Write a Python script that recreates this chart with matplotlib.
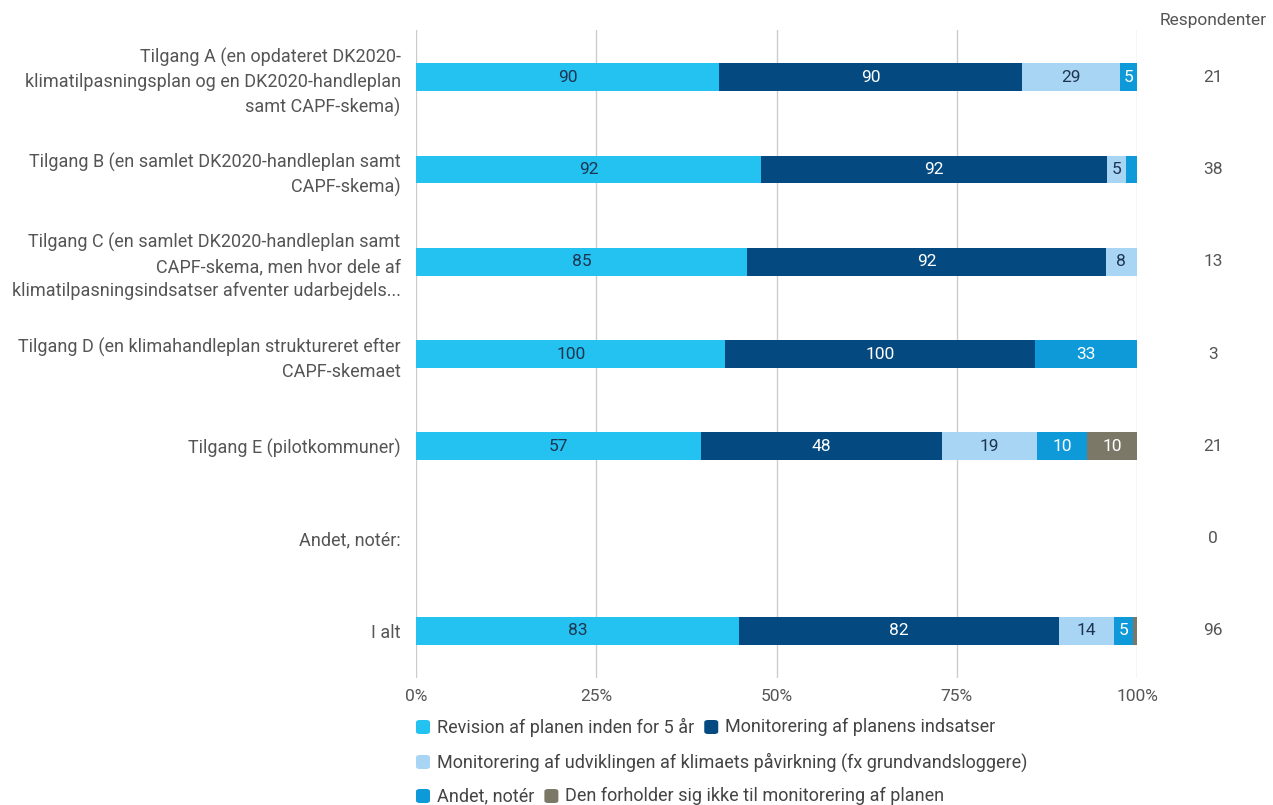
import matplotlib
matplotlib.use("Agg")
import matplotlib.pyplot as plt
from matplotlib.patches import FancyBboxPatch
import numpy as np

plt.rcParams['font.family'] = ['Roboto', 'DejaVu Sans']

categories = [
    "Tilgang A (en opdateret DK2020-\nklimatilpasningsplan og en DK2020-handleplan\nsamt CAPF-skema)",
    "Tilgang B (en samlet DK2020-handleplan samt\nCAPF-skema)",
    "Tilgang C (en samlet DK2020-handleplan samt\nCAPF-skema, men hvor dele af\nklimatilpasningsindsatser afventer udarbejdels...",
    "Tilgang D (en klimahandleplan struktureret efter\nCAPF-skemaet",
    "Tilgang E (pilotkommuner)",
    "Andet, notér:",
    "I alt",
]
respondenter = [21, 38, 13, 3, 21, 0, 96]

series_names = [
    "Revision af planen inden for 5 år",
    "Monitorering af planens indsatser",
    "Monitorering af udviklingen af klimaets påvirkning (fx grundvandsloggere)",
    "Andet, notér",
    "Den forholder sig ikke til monitorering af planen",
]
revision = [90, 92, 85, 100, 57, 0, 83]
monitor_indsatser = [90, 92, 92, 100, 48, 0, 82]
monitor_udvikling = [29, 5, 8, 0, 19, 0, 14]
andet = [5, 3, 0, 33, 10, 0, 5]
forholder_ikke = [0, 0, 0, 0, 10, 0, 1]

colors = ["#23C2F1", "#044A80", "#A9D5F5", "#0E9AD9", "#7C7868"]
text_colors = ["#1d3550", "white", "#1d3550", "white", "white"]

FS = 13

series = np.array([revision, monitor_indsatser, monitor_udvikling, andet, forholder_ikke], dtype=float)
totals = series.sum(axis=0)
shares = np.divide(series, totals, out=np.zeros_like(series), where=totals > 0) * 100

W, H = 1273, 805
fig = plt.figure(figsize=(W / 100, H / 100), dpi=100)
ax = fig.add_axes([416 / W, 1 - 678 / H, (1137 - 416) / W, (678 - 30) / H])

y = np.arange(len(categories))
left = np.zeros(len(categories))
for i in range(len(series)):
    ax.barh(y, shares[i], left=left, height=0.30, color=colors[i], zorder=3, linewidth=0)
    for j in range(len(categories)):
        if shares[i, j] >= 2:
            ax.text(left[j] + shares[i, j] / 2, y[j], f"{int(series[i, j])}",
                    ha="center", va="center", fontsize=12.5, color=text_colors[i], zorder=4)
    left += shares[i]

ax.set_xlim(0, 100)
ax.set_ylim(len(categories) - 0.49, -0.51)
ax.set_xticks([0, 25, 50, 75, 100])
ax.set_xticklabels(["0%", "25%", "50%", "75%", "100%"], fontsize=12.5, color="#555555")
ax.set_yticks(y)
ax.set_yticklabels(categories, fontsize=FS, color="#555555", linespacing=1.43)
ax.tick_params(axis="y", length=0, pad=11)
ax.tick_params(axis="x", length=0, pad=8)
for s in ax.spines.values():
    s.set_visible(False)
ax.grid(axis="x", color="#CCCCCC", linewidth=1, zorder=0)
ax.axvline(0, color="#AAAAAA", linewidth=1.2, zorder=1)

# Respondent counts to the right of the bars
fig.text(1213 / W, 1 - 21 / H, "Respondenter", ha="center", va="center", fontsize=12.5, color="#555555")
for j, n in enumerate(respondenter):
    ax.annotate(str(n), xy=(1, y[j]), xycoords=("axes fraction", "data"),
                xytext=(1213 - 1137, 0), textcoords="offset pixels",
                ha="center", va="center", fontsize=12.5, color="#555555")

# Legend rows drawn by hand
fig.canvas.draw()
renderer = fig.canvas.get_renderer()
rows = [[0, 1], [2], [3, 4]]
row_y = [727, 762, 796]
sq = 14
for r, items in enumerate(rows):
    x = 416
    yc = row_y[r]
    for k in items:
        box = FancyBboxPatch((x / W, 1 - (yc + sq / 2) / H), sq / W, sq / H,
                             boxstyle="round,pad=0,rounding_size=0.003",
                             transform=fig.transFigure, facecolor=colors[k],
                             edgecolor="none")
        fig.patches.append(box)
        t = fig.text((x + sq + 7) / W, 1 - yc / H, series_names[k], ha="left", va="center",
                     fontsize=FS, color="#444444")
        bb = t.get_window_extent(renderer)
        x = bb.x1 + 10

fig.savefig("out.png", dpi=100)
